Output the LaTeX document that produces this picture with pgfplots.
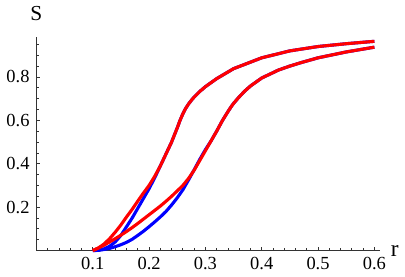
\documentclass[border=0pt]{standalone}
\usepackage{fontspec}
\setmainfont{Liberation Serif}
\newfontfamily\tickfont{Liberation Serif}
\usepackage{pgfplots}
\pgfplotsset{compat=1.18}
\definecolor{mred}{rgb}{1,0,0}
\definecolor{mblue}{rgb}{0,0,1}
\begin{document}
\begin{tikzpicture}
\begin{axis}[
  x=290pt, y=111.75pt,
  xmin=0, xmax=0.61, ymin=0, ymax=0.982,
  axis lines=left,
  axis line style={-, line width=0.5pt, black!80},
  clip=false,
  tick align=inside,
  major tick length=2pt,
  minor tick length=1.2pt,
  tick style={black!80, line width=0.4pt},
  xtick={0.1,0.2,0.3,0.4,0.5,0.6},
  xticklabels={{\tickfont 0.1},{\tickfont 0.2},{\tickfont 0.3},{\tickfont 0.4},{\tickfont 0.5},{\tickfont 0.6}},
  ytick={0.2,0.4,0.6,0.8},
  yticklabels={{\tickfont 0.2},{\tickfont 0.4},{\tickfont 0.6},{\tickfont 0.8}},
  minor xtick={0.02,0.04,0.06,0.08,0.1,0.12,0.14,0.16,0.18,0.2,0.22,0.24,0.26,0.28,0.3,0.32,0.34,0.36,0.38,0.4,0.42,0.44,0.46,0.48,0.5,0.52,0.54,0.56,0.58,0.6},
  minor ytick={0.05,0.1,0.15,0.2,0.25,0.3,0.35,0.4,0.45,0.5,0.55,0.6,0.65,0.7,0.75,0.8,0.85,0.9,0.95},
  tick label style={font=\tickfont\fontsize{9.5}{11}\selectfont},
  xlabel={r}, ylabel={S},
  every axis x label/.style={at={(axis cs:0.61,0)}, anchor=west, xshift=2pt, font=\rmfamily\fontsize{12}{14}\selectfont},
  every axis y label/.style={at={(axis cs:0,0.982)}, anchor=south, yshift=5pt, font=\rmfamily\fontsize{11}{13}\selectfont},
]
% blue upper
\addplot[mblue, line width=1.6pt] coordinates {
(0.1,0) (0.11,0.002) (0.12,0.008) (0.13,0.02) (0.14,0.04) (0.15,0.07) (0.16,0.11) (0.17,0.15) (0.18,0.195) (0.19,0.24) (0.20,0.285) (0.21,0.335) (0.22,0.39) (0.23,0.445) (0.24,0.50) (0.25,0.565) (0.255,0.60) (0.26,0.63) (0.265,0.655) (0.27,0.675) (0.275,0.692) (0.28,0.707) (0.29,0.733) (0.30,0.755) (0.32,0.792) (0.35,0.838) (0.40,0.888) (0.45,0.92) (0.50,0.94) (0.55,0.953) (0.60,0.964)};
% blue lower
\addplot[mblue, line width=1.6pt] coordinates {
(0.1,0) (0.11,0.001) (0.12,0.005) (0.13,0.01) (0.14,0.018) (0.15,0.027) (0.16,0.038) (0.17,0.052) (0.18,0.07) (0.19,0.089) (0.20,0.11) (0.21,0.132) (0.22,0.155) (0.23,0.18) (0.24,0.21) (0.25,0.243) (0.26,0.28) (0.27,0.325) (0.28,0.372) (0.29,0.42) (0.30,0.465) (0.31,0.505) (0.32,0.55) (0.33,0.598) (0.34,0.64) (0.345,0.66) (0.35,0.678) (0.36,0.708) (0.37,0.735) (0.38,0.758) (0.40,0.795) (0.43,0.832) (0.45,0.85) (0.47,0.866) (0.50,0.888) (0.55,0.915) (0.60,0.937)};
% red upper
\addplot[mred, line width=1.6pt] coordinates {
(0.1,0) (0.11,0.012) (0.12,0.03) (0.13,0.055) (0.14,0.085) (0.15,0.118) (0.16,0.155) (0.17,0.19) (0.18,0.228) (0.19,0.265) (0.20,0.30) (0.21,0.342) (0.22,0.39) (0.23,0.445) (0.24,0.50) (0.25,0.565) (0.255,0.60) (0.26,0.63) (0.265,0.655) (0.27,0.675) (0.275,0.692) (0.28,0.707) (0.29,0.733) (0.30,0.755) (0.32,0.792) (0.35,0.838) (0.40,0.888) (0.45,0.92) (0.50,0.94) (0.55,0.953) (0.60,0.964)};
% red lower
\addplot[mred, line width=1.6pt] coordinates {
(0.1,0) (0.11,0.012) (0.12,0.025) (0.13,0.04) (0.14,0.055) (0.15,0.071) (0.16,0.088) (0.17,0.106) (0.18,0.125) (0.19,0.145) (0.20,0.165) (0.21,0.185) (0.22,0.205) (0.23,0.227) (0.24,0.25) (0.25,0.275) (0.26,0.30) (0.27,0.332) (0.28,0.37) (0.29,0.415) (0.30,0.46) (0.31,0.505) (0.32,0.55) (0.33,0.598) (0.34,0.64) (0.345,0.66) (0.35,0.678) (0.36,0.708) (0.37,0.735) (0.38,0.758) (0.40,0.795) (0.43,0.832) (0.45,0.85) (0.47,0.866) (0.50,0.888) (0.55,0.915) (0.60,0.937)};
\end{axis}
\end{tikzpicture}
\end{document}
